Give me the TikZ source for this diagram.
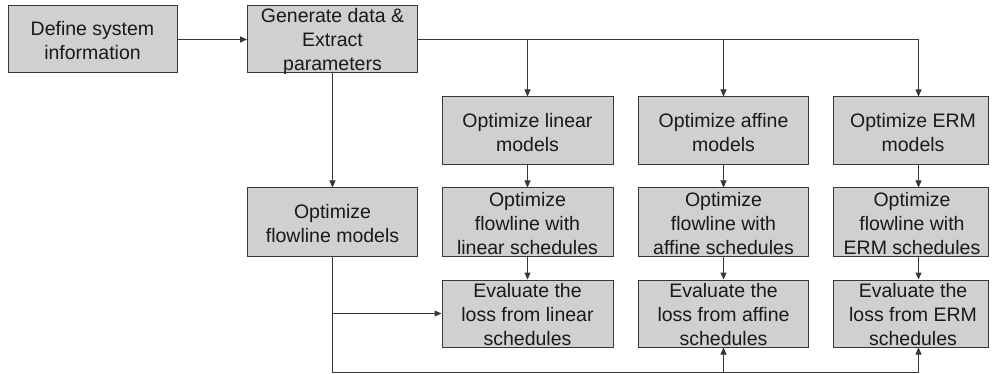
\documentclass[tikz,border=0pt]{standalone}
\usepackage{fontspec}
\setmainfont{Liberation Sans}
\usetikzlibrary{arrows.meta,calc}
\definecolor{boxfill}{RGB}{210,207,207}
\definecolor{linec}{RGB}{55,55,55}
\tikzset{
  box/.style={draw=linec, fill=boxfill, line width=1pt, inner sep=0pt, minimum height=67pt},
  txt/.style={align=center, inner sep=0pt, text=black!90, yshift=-1.5pt, font=\fontsize{19.5}{24}\selectfont},
  conn/.style={draw=linec, line width=1pt},
  arr/.style={conn, -{Triangle[length=7pt,width=6pt]}}
}
\begin{document}
\begin{tikzpicture}[x=1pt,y=-1pt]
\useasboundingbox[fill=white] (0,0) rectangle (995,374);
% boxes
\node[box, minimum width=169] (def) at (92.5,39.5) {};
\node[txt] (def-t) at (def) {Define system\\information};
\node[box, minimum width=170] (gen) at (332.5,39.5) {};
\node[txt] (gen-t) at (gen) {Generate data \&\\Extract\\parameters};
\node[box, minimum width=170, minimum height=68] (flow) at (332.5,222) {};
\node[txt] (flow-t) at (flow) {Optimize\\flowline models};
% column linear
\node[box, minimum width=171, minimum height=68] (lin1) at (527.5,131) {};
\node[txt] (lin1-t) at (lin1) {Optimize linear\\models};
\node[box, minimum width=171, minimum height=68] (lin2) at (527.5,222) {};
\node[txt] (lin2-t) at (lin2) {Optimize\\flowline with\\linear schedules};
\node[box, minimum width=171] (lin3) at (527.5,313.5) {};
\node[txt] (lin3-t) at (lin3) {Evaluate the\\loss from linear\\schedules};
% column affine
\node[box, minimum width=170, minimum height=68] (aff1) at (723.5,131) {};
\node[txt] (aff1-t) at (aff1) {Optimize affine\\models};
\node[box, minimum width=170, minimum height=68] (aff2) at (723.5,222) {};
\node[txt] (aff2-t) at (aff2) {Optimize\\flowline with\\affine schedules};
\node[box, minimum width=170] (aff3) at (723.5,313.5) {};
\node[txt] (aff3-t) at (aff3) {Evaluate the\\loss from affine\\schedules};
% column ERM
\node[box, minimum width=155, minimum height=68] (erm1) at (910.5,131) {};
\node[txt] (erm1-t) at (913,131) {Optimize ERM\\models};
\node[box, minimum width=155, minimum height=68] (erm2) at (910.5,222) {};
\node[txt] (erm2-t) at (912,222) {Optimize\\flowline with\\ERM schedules};
\node[box, minimum width=155] (erm3) at (910.5,313.5) {};
\node[txt] (erm3-t) at (913,313.5) {Evaluate the\\loss from ERM\\schedules};
% coordinates
\coordinate (topR) at (918.5,39.5);
\coordinate (botL) at (332.5,372.5);
\coordinate (botR) at (918.5,372.5);
% connectors
\draw[arr] (def.east) -- (gen.west);
\draw[conn] (gen.east) -- (topR);
\draw[arr] (topR) -- (topR |- erm1.north);
\draw[arr] (gen.east -| lin1.north) -- (lin1.north);
\draw[arr] (gen.east -| aff1.north) -- (aff1.north);
\draw[arr] (gen.south) -- (flow.north);
\draw[arr] (lin1.south) -- (lin2.north);
\draw[arr] (lin2.south) -- (lin3.north);
\draw[arr] (aff1.south) -- (aff2.north);
\draw[arr] (aff2.south) -- (aff3.north);
\draw[arr] (topR |- erm1.south) -- (topR |- erm2.north);
\draw[arr] (topR |- erm2.south) -- (topR |- erm3.north);
\draw[conn] (flow.south) -- (botL) -- (botR);
\draw[arr] (flow.south |- lin3.west) -- (lin3.west);
\draw[arr] (aff3.south |- botL) -- (aff3.south);
\draw[arr] (botR) -- (botR |- erm3.south);
\end{tikzpicture}
\end{document}
